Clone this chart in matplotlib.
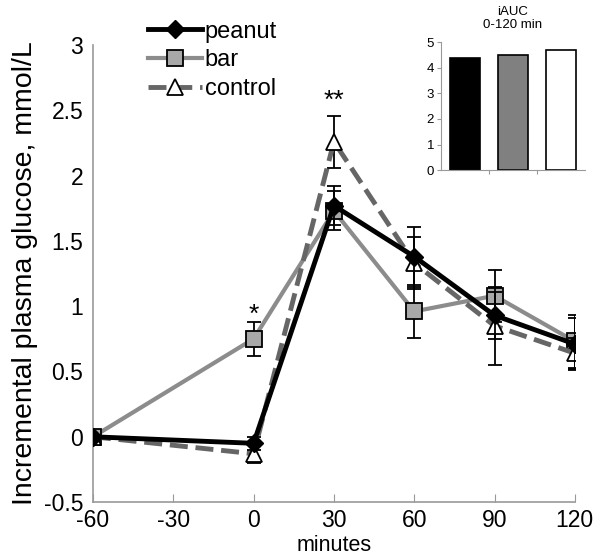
import numpy as np
import matplotlib.pyplot as plt
from matplotlib.lines import Line2D

plt.rcParams['font.family'] = ['Liberation Sans', 'DejaVu Sans']
plt.rcParams['axes.unicode_minus'] = False

# data
minutes = [-60, 0, 30, 60, 90, 120]
peanut = [0.0, -0.05, 1.77, 1.38, 0.93, 0.71]
peanut_err = [0.0, 0.05, 0.15, 0.23, 0.18, 0.2]
bar = [0.0, 0.75, 1.73, 0.96, 1.08, 0.73]
bar_err = [0.0, 0.13, 0.15, 0.2, 0.2, 0.2]
control = [0.0, -0.13, 2.26, 1.33, 0.85, 0.64]
control_err = [0.0, 0.07, 0.2, 0.2, 0.3, 0.12]

auc_labels = ['peanut', 'bar', 'control']
auc_values = [4.4, 4.5, 4.7]

fig = plt.figure(figsize=(6, 5.56), dpi=100)
ax = fig.add_axes([0.155, 0.097, 0.803, 0.822])

ax.errorbar(minutes, control, yerr=control_err, color='#666666', lw=3.5, ls='--',
            marker='^', ms=11, mfc='white', mec='black', mew=1.3,
            ecolor='black', elinewidth=1.3, capsize=5, capthick=1.3, zorder=3)
ax.errorbar(minutes, bar, yerr=bar_err, color='#8c8c8c', lw=3,
            marker='s', ms=11, mfc='#a8a8a8', mec='black', mew=1.3,
            ecolor='black', elinewidth=1.3, capsize=5, capthick=1.3, zorder=2)
ax.errorbar(minutes, peanut, yerr=peanut_err, color='black', lw=3.5,
            marker='D', ms=9, mfc='black', mec='black',
            ecolor='black', elinewidth=1.3, capsize=5, capthick=1.3, zorder=4)

ax.text(0, 0.93, '*', ha='center', va='center', fontsize=19)
ax.text(30, 2.57, '**', ha='center', va='center', fontsize=19)

ax.set_xlim(-60, 120)
ax.set_ylim(-0.5, 3)
ax.set_xticks([-60, -30, 0, 30, 60, 90, 120])
ax.set_yticks(np.arange(-0.5, 3.01, 0.5))
ax.set_yticklabels(['-0.5', '0', '0.5', '1', '1.5', '2', '2.5', '3'])
ax.tick_params(axis='x', direction='in', length=6, color='#999999', labelsize=16.5, pad=5)
ax.tick_params(axis='y', length=0, labelsize=16.5, pad=7)
for s in ['top', 'right']:
    ax.spines[s].set_visible(False)
for s in ['left', 'bottom']:
    ax.spines[s].set_color('#999999')
    ax.spines[s].set_linewidth(1.2)
ax.set_xlabel('minutes', fontsize=15.5, labelpad=2)
ax.set_ylabel('Incremental plasma glucose, mmol/L', fontsize=20.5, labelpad=4)

handles = [
    Line2D([], [], color='black', lw=3.5, marker='D', ms=9, mfc='black', mec='black'),
    Line2D([], [], color='#8c8c8c', lw=3, marker='s', ms=11, mfc='#a8a8a8', mec='black', mew=1.3),
    Line2D([], [], color='#666666', lw=3.5, ls='--', marker='^', ms=11, mfc='white', mec='black', mew=1.3),
]
ax.legend(handles, auc_labels, loc='upper left',
          bbox_to_anchor=(0.07, 1.1), frameon=False, fontsize=17,
          handlelength=2.3, handletextpad=0.1, labelspacing=0.28)

# inset iAUC
ins = fig.add_axes([0.735, 0.694, 0.24, 0.23])
ins.bar(range(3), auc_values, width=0.62, color=['black', '#808080', 'white'],
        edgecolor='black', linewidth=1.2)
ins.set_ylim(0, 5)
ins.set_xlim(-0.5, 2.5)
ins.set_yticks(range(6))
ins.set_xticks([0.5, 1.5], ['', ''])
ins.tick_params(axis='x', direction='out', length=3, color='#999999')
ins.tick_params(axis='y', direction='out', length=3, color='#999999', labelsize=9.5, pad=2)
for s in ['top', 'right']:
    ins.spines[s].set_visible(False)
for s in ['left', 'bottom']:
    ins.spines[s].set_color('#999999')
ins.set_title('iAUC\n0-120 min', fontsize=9.5, pad=10)

fig.savefig('out.png', dpi=100)
